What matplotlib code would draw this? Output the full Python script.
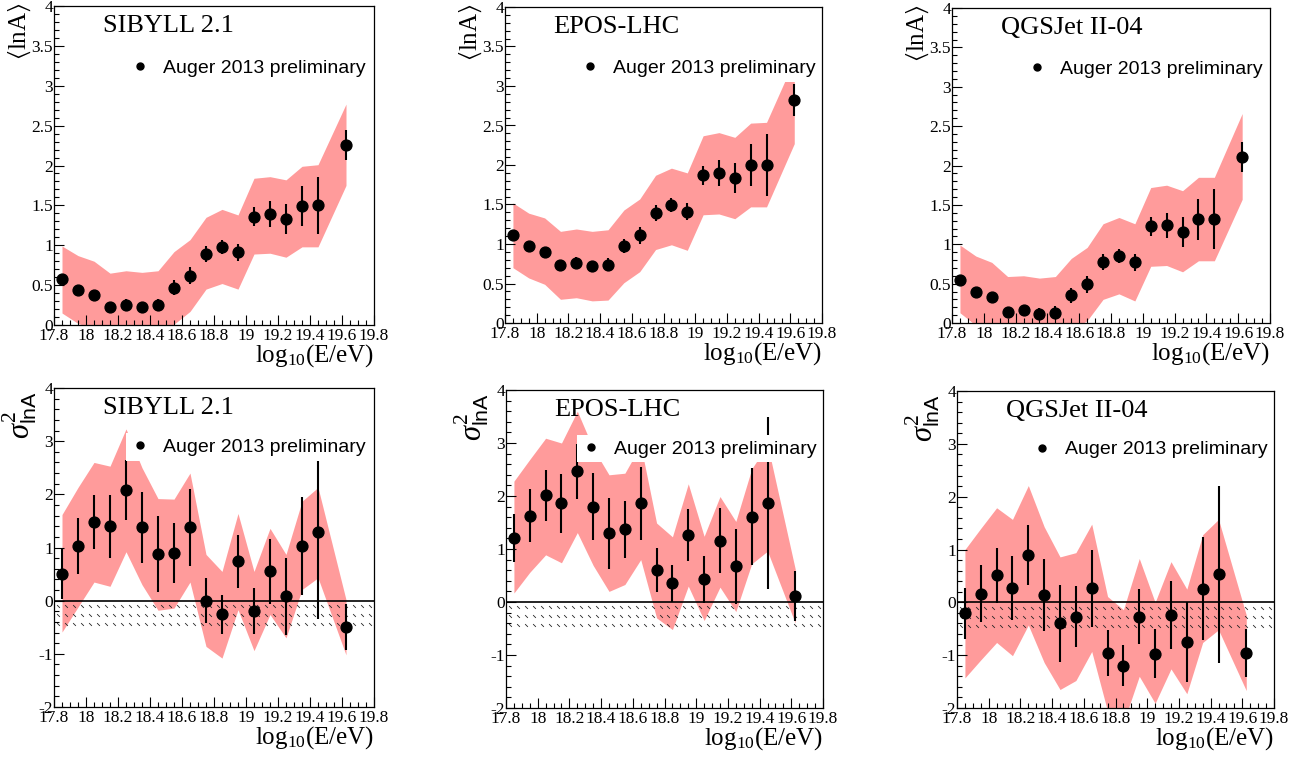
import numpy as np
import matplotlib
matplotlib.use("Agg")
import matplotlib.pyplot as plt
from matplotlib.path import Path
from matplotlib.lines import Line2D
from matplotlib.ticker import FixedLocator, MultipleLocator

# ---------------- data ----------------
energy = [17.85, 17.95, 18.05, 18.15, 18.25, 18.35, 18.45, 18.55, 18.65,
          18.75, 18.85, 18.95, 19.05, 19.15, 19.25, 19.35, 19.45, 19.625]

models = ["SIBYLL 2.1", "EPOS-LHC", "QGSJet II-04"]

# <lnA>
lnA_sib = [0.58, 0.44, 0.38, 0.22, 0.25, 0.22, 0.25, 0.47, 0.62, 0.89, 0.98, 0.91, 1.36, 1.39, 1.33, 1.49, 1.50, 2.26]
lnA_sib_err = [0.04, 0.04, 0.04, 0.06, 0.07, 0.07, 0.08, 0.09, 0.11, 0.10, 0.09, 0.11, 0.12, 0.16, 0.19, 0.25, 0.36, 0.19]
lnA_sib_hi = [0.99, 0.87, 0.80, 0.65, 0.68, 0.66, 0.68, 0.92, 1.07, 1.35, 1.45, 1.38, 1.84, 1.86, 1.82, 1.99, 2.01, 2.77]
lnA_sib_lo = [0.15, 0.02, -0.05, -0.22, -0.19, -0.22, -0.19, 0.01, 0.17, 0.45, 0.52, 0.45, 0.89, 0.90, 0.85, 0.98, 0.98, 1.75]

lnA_epos = [1.11, 0.97, 0.90, 0.73, 0.76, 0.72, 0.74, 0.97, 1.11, 1.39, 1.49, 1.41, 1.87, 1.90, 1.83, 2.00, 2.00, 2.82]
lnA_epos_err = [0.04, 0.04, 0.04, 0.06, 0.07, 0.07, 0.08, 0.09, 0.11, 0.10, 0.09, 0.11, 0.12, 0.16, 0.19, 0.27, 0.39, 0.20]
lnA_epos_hi = [1.52, 1.39, 1.33, 1.16, 1.19, 1.16, 1.18, 1.43, 1.57, 1.87, 1.96, 1.90, 2.37, 2.41, 2.35, 2.53, 2.54, 3.33]
lnA_epos_lo = [0.70, 0.57, 0.49, 0.30, 0.32, 0.28, 0.29, 0.51, 0.65, 0.93, 0.99, 0.92, 1.37, 1.38, 1.32, 1.47, 1.47, 2.27]

lnA_qgs = [0.55, 0.40, 0.33, 0.14, 0.16, 0.12, 0.13, 0.35, 0.49, 0.77, 0.85, 0.77, 1.23, 1.24, 1.16, 1.32, 1.32, 2.11]
lnA_qgs_err = [0.04, 0.04, 0.04, 0.06, 0.07, 0.07, 0.08, 0.09, 0.11, 0.10, 0.09, 0.11, 0.12, 0.16, 0.19, 0.26, 0.38, 0.19]
lnA_qgs_hi = [0.99, 0.85, 0.77, 0.59, 0.60, 0.57, 0.59, 0.82, 0.96, 1.26, 1.34, 1.26, 1.72, 1.75, 1.68, 1.85, 1.85, 2.66]
lnA_qgs_lo = [0.13, -0.03, -0.10, -0.29, -0.27, -0.31, -0.30, -0.10, 0.03, 0.30, 0.37, 0.28, 0.72, 0.73, 0.65, 0.79, 0.79, 1.57]

# sigma^2(lnA)
var_sib = [0.50, 1.03, 1.48, 1.40, 2.08, 1.38, 0.88, 0.90, 1.38, 0.00, -0.26, 0.74, -0.20, 0.55, 0.08, 1.03, 1.29, -0.50]
var_sib_err = [0.47, 0.52, 0.51, 0.59, 0.56, 0.67, 0.71, 0.57, 0.72, 0.42, 0.36, 0.50, 0.43, 0.61, 0.72, 0.92, 1.63, 0.43]
var_sib_hi = [1.62, 2.13, 2.60, 2.53, 3.23, 2.50, 1.92, 1.91, 2.40, 0.87, 0.55, 1.64, 0.55, 1.36, 0.87, 1.87, 2.13, 0.02]
var_sib_lo = [-0.59, -0.12, 0.35, 0.27, 0.92, 0.30, -0.18, -0.14, 0.35, -0.86, -1.08, -0.17, -0.94, -0.26, -0.70, 0.21, 0.43, -1.02]

var_epos = [1.21, 1.63, 2.01, 1.86, 2.47, 1.80, 1.30, 1.37, 1.86, 0.60, 0.35, 1.27, 0.43, 1.16, 0.67, 1.61, 1.87, 0.11]
var_epos_err = [0.45, 0.50, 0.49, 0.56, 0.52, 0.63, 0.67, 0.54, 0.69, 0.41, 0.35, 0.49, 0.44, 0.61, 0.71, 0.92, 1.62, 0.47]
var_epos_hi = [2.28, 2.69, 3.09, 3.00, 3.60, 2.90, 2.40, 2.43, 2.96, 1.49, 1.23, 2.23, 1.24, 1.99, 1.52, 2.51, 2.97, 0.62]
var_epos_lo = [0.17, 0.56, 0.89, 0.74, 1.31, 0.69, 0.20, 0.33, 0.80, -0.30, -0.52, 0.30, -0.35, 0.28, -0.18, 0.72, 0.96, -0.40]

var_qgs = [-0.21, 0.16, 0.51, 0.27, 0.89, 0.14, -0.40, -0.27, 0.27, -0.96, -1.20, -0.27, -0.97, -0.24, -0.75, 0.26, 0.53, -0.96]
var_qgs_err = [0.48, 0.54, 0.52, 0.60, 0.57, 0.68, 0.72, 0.57, 0.73, 0.44, 0.39, 0.52, 0.46, 0.64, 0.75, 0.97, 1.68, 0.45]
var_qgs_hi = [1.00, 1.40, 1.79, 1.57, 2.21, 1.43, 0.86, 0.94, 1.48, 0.11, -0.14, 0.83, 0.00, 0.77, 0.25, 1.28, 1.57, -0.24]
var_qgs_lo = [-1.43, -1.09, -0.76, -1.01, -0.43, -1.14, -1.65, -1.48, -0.93, -2.06, -2.28, -1.40, -1.91, -1.26, -1.73, -0.76, -0.52, -1.67]

x_ticks = [17.8, 18.0, 18.2, 18.4, 18.6, 18.8, 19.0, 19.2, 19.4, 19.6, 19.8]
x_ticklabels = ["17.8", "18", "18.2", "18.4", "18.6", "18.8", "19", "19.2", "19.4", "19.6", "19.8"]
lnA_ticks = [0, 0.5, 1, 1.5, 2, 2.5, 3, 3.5, 4]
lnA_ticklabels = ["0", "0.5", "1", "1.5", "2", "2.5", "3", "3.5", "4"]
var_ticks = [-2, -1, 0, 1, 2, 3, 4]
var_ticklabels = ["-2", "-1", "0", "1", "2", "3", "4"]
unphysical_lo, unphysical_hi = -0.5, 0.0   # hatched region

legend_label = "Auger 2013 preliminary"

# ---------------- style ----------------
plt.rcParams["mathtext.fontset"] = "custom"
plt.rcParams["mathtext.rm"] = "Liberation Serif"
plt.rcParams["mathtext.it"] = "Liberation Serif:italic"
plt.rcParams["mathtext.bf"] = "Liberation Serif:bold"
plt.rcParams["mathtext.sf"] = "Liberation Sans"
plt.rcParams["mathtext.fallback"] = "stix"
SERIF = ["Liberation Serif", "DejaVu Serif"]
SANS = ["Liberation Sans", "DejaVu Sans"]
BAND = "#ff9b9b"

W, H = 1301, 762
fig = plt.figure(figsize=(W / 100, H / 100), dpi=100)

def rect(l, t, r, b):
    return [l / W, 1 - b / H, (r - l) / W, (b - t) / H]

rects = [rect(54, 6, 374, 325), rect(505, 7, 822, 323), rect(952, 8, 1270, 323),
         rect(54, 388, 374, 707), rect(506, 390, 823, 708), rect(957, 391, 1274, 708)]

top_data = [(lnA_sib, lnA_sib_err, lnA_sib_lo, lnA_sib_hi),
            (lnA_epos, lnA_epos_err, lnA_epos_lo, lnA_epos_hi),
            (lnA_qgs, lnA_qgs_err, lnA_qgs_lo, lnA_qgs_hi)]
bot_data = [(var_sib, var_sib_err, var_sib_lo, var_sib_hi),
            (var_epos, var_epos_err, var_epos_lo, var_epos_hi),
            (var_qgs, var_qgs_err, var_qgs_lo, var_qgs_hi)]

dash = Path([(-1, 1), (1, -1)], [Path.MOVETO, Path.LINETO])


def draw_panel(ax, model, vals, errs, lo, hi, ylim, yticks, yticklabels, yminor,
               ylabel, ylabel_size, lower):
    ax.fill_between(energy, lo, hi, color=BAND, lw=0, zorder=1)
    if lower:
        # hatched unphysical region
        hx = np.arange(x_ticks[0] + 0.025, x_ticks[-1], 0.05)
        hy = np.linspace(unphysical_lo + 0.06, unphysical_hi - 0.1, 3)
        gx, gy = np.meshgrid(hx, hy)
        ax.plot(gx.ravel(), gy.ravel(), ls="none", marker=dash, ms=2.0,
                mew=0.6, color="#222222", zorder=2)
        ax.axhline(0, color="black", lw=1.2, zorder=2.5)
    ax.errorbar(energy, vals, yerr=errs, fmt="o", color="black", ms=7.8,
                elinewidth=1.5, capsize=0, zorder=3)
    ax.set_xlim(x_ticks[0], x_ticks[-1])
    ax.set_ylim(*ylim)
    ax.xaxis.set_major_locator(FixedLocator(x_ticks))
    ax.set_xticklabels(x_ticklabels, fontfamily=SERIF, fontsize=12.5)
    ax.xaxis.set_minor_locator(MultipleLocator(0.05))
    ax.yaxis.set_major_locator(FixedLocator(yticks))
    ax.set_yticklabels(yticklabels, fontfamily=SERIF, fontsize=12.5)
    ax.yaxis.set_minor_locator(MultipleLocator(yminor))
    ax.tick_params(which="both", direction="in", top=False, right=False, width=0.8)
    ax.tick_params(which="major", length=7.5)
    ax.tick_params(which="minor", length=3.8)
    ax.tick_params(axis="x", which="major", pad=2.0)
    ax.tick_params(axis="y", which="major", pad=0.8)
    for s in ax.spines.values():
        s.set_linewidth(0.9)
    ax.text(0.153, 0.918, model, transform=ax.transAxes, fontfamily=SERIF,
            fontsize=19, ha="left", va="baseline")
    ax.text(1.0, -0.115, r"$\mathrm{log}_{10}\mathrm{(E/eV)}$", transform=ax.transAxes,
            fontsize=18, ha="right", va="baseline")
    ax.text(-0.108, 1.012 if not lower else 0.99, ylabel, transform=ax.transAxes,
            fontsize=ylabel_size, rotation=90, ha="center", va="top")
    h = Line2D([], [], ls="none", marker="o", color="black", ms=5)
    leg = ax.legend([h], [legend_label], loc="center left",
                    bbox_to_anchor=(0.225, 0.815 if lower else 0.806),
                    frameon=True, fancybox=False, facecolor="white", edgecolor="none",
                    framealpha=1, borderpad=0.25, handlelength=0.9, handletextpad=0.75,
                    borderaxespad=0, prop={"family": SANS, "size": 14})
    leg.set_zorder(5)


for i in range(3):
    ax = fig.add_axes(rects[i])
    v, e, lo, hi = top_data[i]
    draw_panel(ax, models[i], v, e, lo, hi, (0, 4), lnA_ticks, lnA_ticklabels, 0.1,
               r"$\langle\mathrm{lnA}\rangle$", 18, False)
for i in range(3):
    ax = fig.add_axes(rects[3 + i])
    v, e, lo, hi = bot_data[i]
    draw_panel(ax, models[i], v, e, lo, hi, (-2, 4), var_ticks, var_ticklabels, 0.2,
               r"$\sigma^{2}_{\mathsf{lnA}}$", 22, True)

fig.savefig("out.png", dpi=100)
